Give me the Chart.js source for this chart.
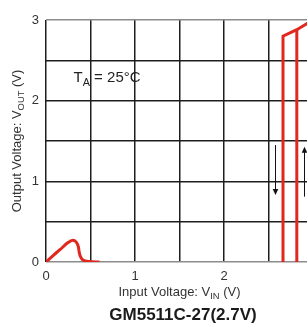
<!DOCTYPE html>
<html>
<head>
<meta charset="utf-8">
<script src="https://cdn.jsdelivr.net/npm/chart.js@4/dist/chart.umd.min.js"></script>
<style>
html,body{margin:0;padding:0;overflow:hidden;background:#fff;}
#wrap{width:330px;height:325px;position:relative;}
</style>
</head>
<body>
<div id="wrap"><canvas id="c"></canvas></div>
<script>
// ---- data ----
const humpX = [0, 0.08, 0.16, 0.24, 0.30, 0.337, 0.363, 0.375, 0.39, 0.42, 0.49, 0.6];
const humpY = [0, 0.08, 0.155, 0.235, 0.27, 0.25, 0.19, 0.11, 0.06, 0.02, 0.005, 0];
const riseAX = [2.663, 2.663, 2.818, 3.0];
const riseAY = [0, 2.80, 2.88, 3.0];
const riseBX = [2.818, 2.818];
const riseBY = [0, 2.88];
const arrowX = [2.57, 2.90];
const arrowFrom = [1.45, 0.81];
const arrowTo = [0.83, 1.43];
const xTickLabels = ['0', '1', '2', '3'];
const yTickLabels = ['0', '1', '2', '3'];
const noteX = 0.31, noteY = 2.28;

const RED = '#e0281e';
const zip = (xs, ys) => xs.map((x, i) => ({x, y: ys[i]}));

function richWidth(ctx, parts, size) {
  let w = 0;
  for (const p of parts) {
    ctx.font = (p.bold ? 'bold ' : '') + (p.sub ? size * 0.72 : size) + 'px "Liberation Sans", Arial, sans-serif';
    w += ctx.measureText(p.t).width;
  }
  return w;
}
function drawRich(ctx, parts, x, y, size, align) {
  const w = richWidth(ctx, parts, size);
  let cx = align === 'center' ? x - w / 2 : x;
  ctx.textBaseline = 'middle';
  ctx.textAlign = 'left';
  for (const p of parts) {
    const s = p.sub ? size * 0.72 : size;
    ctx.font = (p.bold ? 'bold ' : '') + s + 'px "Liberation Sans", Arial, sans-serif';
    ctx.fillText(p.t, cx, p.sub ? y + size * 0.32 : y);
    cx += ctx.measureText(p.t).width;
  }
}

const textPlugin = {
  id: 'texts',
  afterDraw(chart) {
    const {ctx, chartArea: a, scales: {x, y}} = chart;
    ctx.save();
    // arrows
    ctx.strokeStyle = '#111';
    ctx.fillStyle = '#111';
    ctx.lineWidth = 1;
    arrowX.forEach((ax, i) => {
      const px = Math.round(x.getPixelForValue(ax)) + 0.5;
      const y1 = y.getPixelForValue(arrowFrom[i]);
      const y2 = y.getPixelForValue(arrowTo[i]);
      const dir = y2 > y1 ? 1 : -1;
      ctx.beginPath();
      ctx.moveTo(px, y1);
      ctx.lineTo(px, y2 - dir * 5);
      ctx.stroke();
      ctx.beginPath();
      ctx.moveTo(px - 2.8, y2 - dir * 6);
      ctx.lineTo(px + 2.8, y2 - dir * 6);
      ctx.lineTo(px, y2);
      ctx.closePath();
      ctx.fill();
    });
    // annotation
    ctx.fillStyle = '#222';
    drawRich(ctx, [{t: 'T'}, {t: 'A', sub: true}, {t: ' = 25°C'}],
      x.getPixelForValue(noteX), y.getPixelForValue(noteY), 15, 'left');
    // x title
    ctx.fillStyle = '#333';
    drawRich(ctx, [{t: 'Input Voltage: V'}, {t: 'IN', sub: true}, {t: ' (V)'}],
      (a.left + a.right) / 2, 292, 13, 'center');
    // y title
    ctx.save();
    ctx.translate(17, (a.top + a.bottom) / 2);
    ctx.rotate(-Math.PI / 2);
    drawRich(ctx, [{t: 'Output Voltage: V'}, {t: 'OUT', sub: true}, {t: ' (V)'}], 0, 0, 13, 'center');
    ctx.restore();
    // chart title
    ctx.fillStyle = '#1a1a1a';
    drawRich(ctx, [{t: 'GM5511C-27(2.7V)', bold: true}], 183, 315, 17, 'center');
    ctx.restore();
  }
};

const gridColor = (c) => (c.index === 0 || c.index === 6) ? '#8c8c8c' : '#1e1e1e';

new Chart(document.getElementById('c'), {
  type: 'scatter',
  data: {
    datasets: [
      {data: zip(humpX, humpY), showLine: true, borderColor: RED, borderWidth: 3,
       pointRadius: 0, cubicInterpolationMode: 'monotone', fill: false},
      {data: zip(riseAX, riseAY), showLine: true, borderColor: RED, borderWidth: 3,
       pointRadius: 0, tension: 0, fill: false},
      {data: zip(riseBX, riseBY), showLine: true, borderColor: RED, borderWidth: 3,
       pointRadius: 0, tension: 0, fill: false}
    ]
  },
  options: {
    responsive: true,
    maintainAspectRatio: false,
    animation: false,
    devicePixelRatio: 1,
    layout: {padding: {top: 20, right: 17, left: 0, bottom: 0}},
    plugins: {legend: {display: false}, tooltip: {enabled: false}},
    scales: {
      x: {
        type: 'linear', min: 0, max: 3,
        border: {display: false},
        grid: {color: '#1e1e1e', lineWidth: 1.5, drawTicks: false},
        ticks: {stepSize: 0.5, padding: 7, color: '#333', maxRotation: 0, autoSkip: false,
          font: {size: 13, family: '"Liberation Sans", Arial, sans-serif'},
          callback: (v) => Number.isInteger(v) ? xTickLabels[v] : ''},
        afterFit: (s) => { s.height = 63; }
      },
      y: {
        type: 'linear', min: 0, max: 3,
        border: {display: false},
        grid: {color: gridColor, lineWidth: 1.5, drawTicks: false},
        ticks: {stepSize: 0.5, padding: 7, color: '#333', autoSkip: false,
          font: {size: 13, family: '"Liberation Sans", Arial, sans-serif'},
          callback: (v) => Number.isInteger(v) ? yTickLabels[v] : ''},
        afterFit: (s) => { s.width = 46; }
      }
    }
  },
  plugins: [textPlugin]
});
</script>
</body>
</html>
